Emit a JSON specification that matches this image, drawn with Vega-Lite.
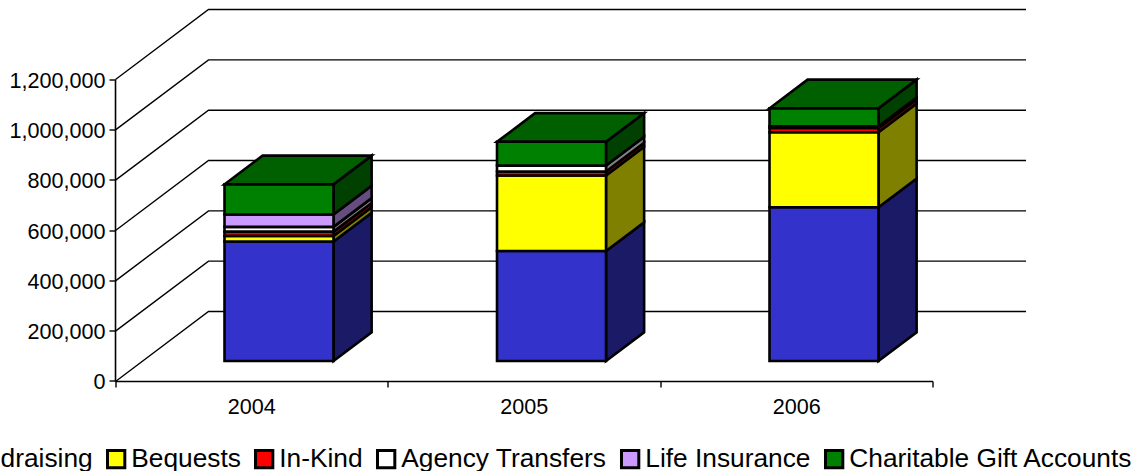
{
"$schema":"https://vega.github.io/schema/vega-lite/v6.json",
"width":1138,"height":471,"padding":0,"autosize":"none",
"background":"white",
"config":{"view":{"stroke":null},"font":"Liberation Sans"},
"layer":[
{"data":{"values":[{"tick":0},{"tick":200000},{"tick":400000},{"tick":600000},{"tick":800000},{"tick":1000000},{"tick":1200000}]},
 "transform":[{"calculate":"[0,1,2]","as":"pt"},{"flatten":["pt"]},
 {"calculate":"(datum.pt==2?3:0)+(datum.pt==0?0:0.3413)","as":"xp"},
 {"calculate":"datum.tick+(datum.pt==0?0:278166)","as":"yp"}],
 "mark":{"type":"line","color":"black","strokeWidth":1.4},
 "encoding":{
  "x":{"field":"xp","type":"quantitative","scale":{"domain":[-0.4239,3.7523],"nice":false,"zero":false},
    "axis":{"title":null,"orient":"bottom","offset":-89.5,"translate":0,"grid":false,"domain":false,"values":[0,0.5,1,1.5,2,2.5,3],
      "labelExpr":"datum.value%1?''+(2004+floor(datum.value)):''","tickColor":"black","tickWidth":1.4,"tickSize":6,
      "tickOpacity":{"condition":{"test":"datum.value%1==0","value":1},"value":0},
      "labelPadding":9,"labelFontSize":21.6,"labelColor":"black","labelFont":"Liberation Sans","labelFlush":false,"labelOverlap":false}},
  "y":{"field":"yp","type":"quantitative","scale":{"domain":[-355656,1516000],"nice":false,"zero":false},
    "axis":{"title":null,"orient":"left","offset":-115.5,"translate":0,"grid":false,"domain":false,"values":[0,200000,400000,600000,800000,1000000,1200000],
      "format":",.0f","tickColor":"black","tickWidth":1.4,"tickSize":6,"labelPadding":4,"labelOffset":2,"labelFontSize":21.6,"labelColor":"black","labelFont":"Liberation Sans","labelOverlap":false}},
  "detail":{"field":"tick"},
  "order":{"field":"pt"}
 }},
{"data":{"values":[{"base":0,"maxValue":1200000,"first":0,"last":3}]},
 "mark":{"type":"rule","color":"black","strokeWidth":1.6},
 "encoding":{"x":{"field":"first","type":"quantitative"},"y":{"field":"base","type":"quantitative"},"y2":{"field":"maxValue"}}},
{"data":{"values":[{"base":0,"maxValue":1200000,"first":0,"last":3}]},
 "mark":{"type":"rule","color":"black","strokeWidth":1.6},
 "encoding":{"y":{"field":"base","type":"quantitative"},"x":{"field":"first","type":"quantitative"},"x2":{"field":"last"}}},
{"data":{"values":[
 {"year":2004,"series":"Fundraising","amount":475000},
 {"year":2004,"series":"Bequests","amount":22000},
 {"year":2004,"series":"In-Kind","amount":17000},
 {"year":2004,"series":"Agency Transfers","amount":19000},
 {"year":2004,"series":"Life Insurance","amount":49000},
 {"year":2004,"series":"Charitable Gift Accounts","amount":120000},
 {"year":2005,"series":"Fundraising","amount":437000},
 {"year":2005,"series":"Bequests","amount":300000},
 {"year":2005,"series":"In-Kind","amount":16000},
 {"year":2005,"series":"Agency Transfers","amount":24000},
 {"year":2005,"series":"Life Insurance","amount":0},
 {"year":2005,"series":"Charitable Gift Accounts","amount":94000},
 {"year":2006,"series":"Fundraising","amount":611000},
 {"year":2006,"series":"Bequests","amount":298000},
 {"year":2006,"series":"In-Kind","amount":17000},
 {"year":2006,"series":"Agency Transfers","amount":7000},
 {"year":2006,"series":"Life Insurance","amount":0},
 {"year":2006,"series":"Charitable Gift Accounts","amount":71000}
 ]},
 "transform":[
  {"calculate":"indexof(['Fundraising','Bequests','In-Kind','Agency Transfers','Life Insurance','Charitable Gift Accounts'],datum.series)","as":"rank"},
  {"stack":"amount","groupby":["year"],"sort":[{"field":"rank","order":"ascending"}],"as":["low","high"]},
  {"calculate":"datum.year-2004+0.5","as":"cx"}
 ],
 "layer":[
  {"transform":[{"calculate":"[0.293,0.703]","as":"d"},{"flatten":["d"]},
    {"calculate":"datum.cx+0.2+datum.d*0.3413","as":"xs"},
    {"calculate":"datum.low+datum.d*278166","as":"ya"},
    {"calculate":"datum.high+datum.d*278166","as":"yb"}],
   "mark":{"type":"area","stroke":"black","strokeWidth":2.6,"opacity":1,"strokeJoin":"miter"},
   "encoding":{
    "x":{"field":"xs","type":"quantitative"},
    "y":{"field":"ya","type":"quantitative","stack":null},
    "y2":{"field":"yb"},
    "detail":{"field":"year"},
    "color":{"field":"series","type":"nominal","legend":null,
      "scale":{"domain":["Fundraising","Bequests","In-Kind","Agency Transfers","Life Insurance","Charitable Gift Accounts"],
               "range":["#1a1a66","#808000","#800000","#808080","#664d80","#004000"]}}
   }},
  {"transform":[{"filter":"datum.series=='Charitable Gift Accounts'"},{"calculate":"[0.293,0.703]","as":"d"},{"flatten":["d"]},
    {"calculate":"datum.cx-0.2+datum.d*0.3413","as":"xa"},
    {"calculate":"datum.cx+0.2+datum.d*0.3413","as":"xb"},
    {"calculate":"datum.high+datum.d*278166","as":"yt"}],
   "mark":{"type":"area","orient":"horizontal","fill":"#006000","stroke":"black","strokeWidth":2.6,"opacity":1,"strokeJoin":"miter"},
   "encoding":{
    "x":{"field":"xa","type":"quantitative","stack":null},
    "x2":{"field":"xb"},
    "y":{"field":"yt","type":"quantitative"},
    "detail":{"field":"year"}
   }},
  {"transform":[
    {"calculate":"datum.cx-0.2+0.293*0.3413","as":"xa"},
    {"calculate":"datum.cx+0.2+0.293*0.3413","as":"xb"},
    {"calculate":"datum.low+0.293*278166","as":"ya"},
    {"calculate":"datum.high+0.293*278166","as":"yb"}],
   "mark":{"type":"rect","stroke":"black","strokeWidth":2.6},
   "encoding":{
    "x":{"field":"xa","type":"quantitative"},
    "x2":{"field":"xb"},
    "y":{"field":"ya","type":"quantitative"},
    "y2":{"field":"yb"},
    "color":{"field":"series","type":"nominal",
      "scale":{"domain":["Fundraising","Bequests","In-Kind","Agency Transfers","Life Insurance","Charitable Gift Accounts"],
               "range":["#3333cc","#ffff00","#ff0000","#ffffff","#cc99ff","#008000"]},
      "legend":{"title":null,"orient":"none","legendX":-73,"legendY":446,"direction":"horizontal","columns":6,"gridAlign":"none",
        "columnPadding":8,"symbolType":"square","symbolSize":300,"symbolStrokeColor":"black","symbolStrokeWidth":3,
        "labelFontSize":26.3,"labelColor":"black","labelFont":"Liberation Sans","labelOffset":2,"labelLimit":0,"padding":0,"symbolOpacity":1}}
   }}
 ],
 "resolve":{"scale":{"color":"independent"}}
}
],
"resolve":{"scale":{"color":"independent"}}
}
